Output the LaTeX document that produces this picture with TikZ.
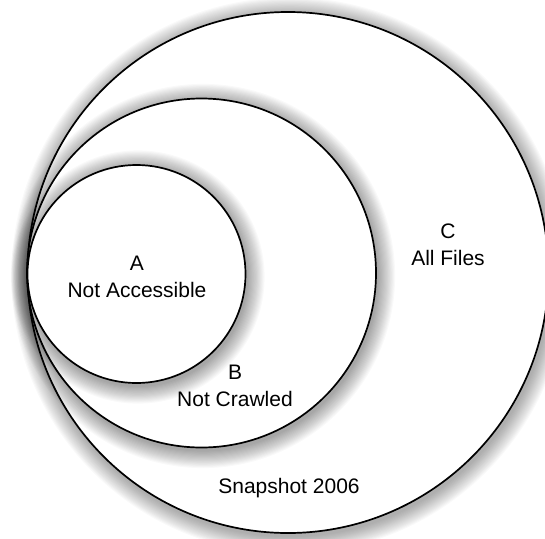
\documentclass[tikz,border=0pt]{standalone}
\usepackage{fontspec}
\setmainfont{Liberation Sans}
\usetikzlibrary{calc}

% soft shadow round a circle: centre, radius
\newcommand{\ringshadow}[2]{%
  \foreach \k in {1,...,16}
    \fill[black, opacity=0.022] ($(#1)+(1.5,3)$) circle[radius=#2+\k*1.1];}

\begin{document}
\begin{tikzpicture}[
    x=1pt, y=-1pt,
    ring/.style={circle, draw, line width=1.7pt, fill=white, inner sep=0pt},
    lbl/.style={font=\fontsize{21}{27}\selectfont, align=center}
]
  \useasboundingbox (0,0) rectangle (545,538);
  \clip (0,0) rectangle (545,538);

  \coordinate (cC) at (288,272.5);
  \coordinate (cB) at (201.5,273);
  \coordinate (cA) at (136.5,274);

  % C: all files
  \ringshadow{cC}{260.5}
  \node[ring, minimum size=521pt] (allfiles) at (cC) {};

  % B: not crawled
  \ringshadow{cB}{174.5}
  \node[ring, minimum size=349pt] (notcrawled) at (cB) {};

  % A: not accessible
  \ringshadow{cA}{109}
  \node[ring, minimum size=218pt] (notaccessible) at (cA) {};

  \node[lbl] (lblA) at (137,277) {A\\Not Accessible};
  \node[lbl] (lblB) at (235,386) {B\\Not Crawled};
  \node[lbl] (lblC) at (448,245) {C\\All Files};
  \node[lbl] (lblsnap) at (289,488) {Snapshot 2006};
\end{tikzpicture}
\end{document}
